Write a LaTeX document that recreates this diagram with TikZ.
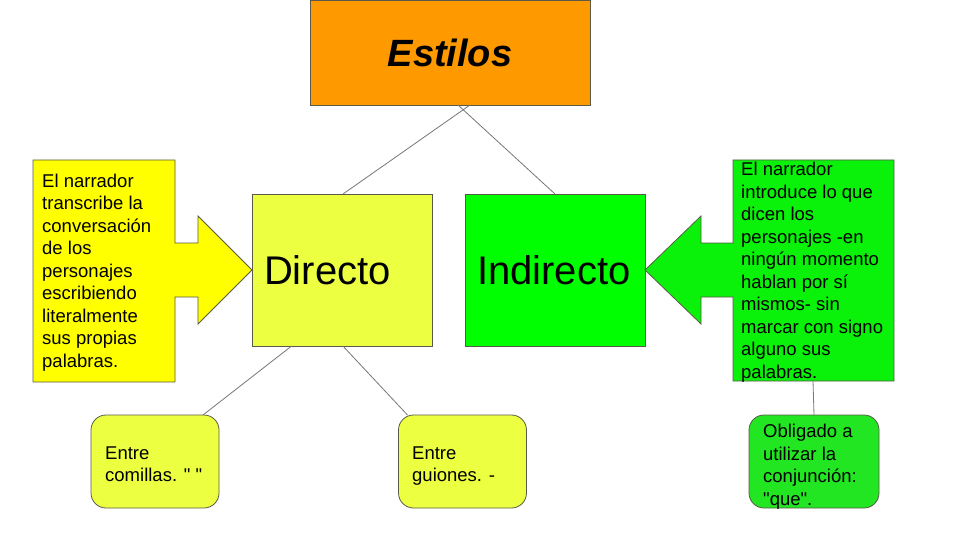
\documentclass[tikz,border=0pt]{standalone}
\usepackage{fontspec}
\setmainfont{Liberation Sans}[Ligatures=TeXOff]
\usetikzlibrary{calc}
\definecolor{orangebox}{HTML}{FF9900}
\definecolor{lightyg}{HTML}{ECFF40}
\definecolor{yellowbox}{HTML}{FFFF00}
\definecolor{greenbox}{HTML}{00FF00}
\definecolor{greenbox2}{HTML}{0AF20A}
\definecolor{greenround}{HTML}{22E622}
\definecolor{edge}{HTML}{5A5A48}
\definecolor{conn}{HTML}{777777}
\begin{document}
\begin{tikzpicture}[x=1pt,y=-1pt,
  boxstyle/.style={draw=edge, line width=0.8pt, inner sep=0pt, outer sep=0pt},
  bigtext/.style={font=\fontsize{40}{44}\selectfont, align=left, text width=156pt, inner xsep=11pt},
  smalltext/.style={font=\fontsize{18.5}{22.5}\selectfont, align=left, inner sep=0pt, anchor=north west},
  roundbox/.style={draw=edge, line width=0.8pt, rounded corners=15pt, minimum width=128pt, minimum height=93pt, inner sep=0pt, outer sep=0pt},
  connline/.style={draw=conn, line width=0.8pt}]
\useasboundingbox (0,0) rectangle (960,540);
\fill[white] (0,0) rectangle (960,540);

% top node
\node[boxstyle, fill=orangebox, minimum width=280pt, minimum height=105pt,
  font=\fontsize{38}{42}\selectfont\bfseries\itshape] (estilos) at (450,52.5) {Estilos};

% main boxes
\node[boxstyle, fill=lightyg, minimum width=180pt, minimum height=152pt, bigtext] (directo) at (342,270) {Directo};
\node[boxstyle, fill=greenbox, minimum width=180pt, minimum height=152pt, bigtext] (indirecto) at (555,270) {Indirecto};

% left callout
\filldraw[fill=yellowbox, draw=edge, line width=0.8pt]
  (33,160) -- (175,160) -- (175,243) -- (198,243) -- (198,216) -- (directo.west)
  -- (198,324) -- (198,297) -- (175,297) -- (175,382) -- (33,382) -- cycle;
\node[smalltext] (leftnote) at (42,173.5) {El narrador\\transcribe la\\conversación\\de los\\personajes\\escribiendo\\literalmente\\sus propias\\palabras.};

% right callout
\filldraw[fill=greenbox2, draw=edge, line width=0.8pt]
  (894,160) -- (733,160) -- (733,243) -- (701,243) -- (701,216) -- (indirecto.east)
  -- (701,324) -- (701,297) -- (733,297) -- (733,381) -- (894,381) -- cycle;
\coordinate (rightnotebottom) at (813,381);
\node[smalltext] (rightnote) at (741,162) {El narrador\\introduce lo que\\dicen los\\personajes -en\\ningún momento\\hablan por sí\\mismos- sin\\marcar con signo\\alguno sus\\palabras.};

% bottom rounded boxes
\node[roundbox, fill=lightyg] (comillas) at (155,461.5) {};
\node[smalltext] (comillastext) at (105,446.5) {Entre\\comillas. " "};
\node[roundbox, fill=lightyg] (guiones) at (462.5,461.5) {};
\node[smalltext] (guionestext) at (412,446.5) {Entre\\guiones. -};
\node[roundbox, fill=greenround, minimum width=130pt] (obligado) at (814,461.5) {};
\node[smalltext] (obligadotext) at (763,424) {Obligado a\\utilizar la\\conjunción:\\"que".};

% connectors
\draw[connline] ($(estilos.south)+(20,0)$) -- ($(directo.north)+(1,0)$);
\draw[connline] ($(estilos.south)+(8,0)$) -- (indirecto.north);
\draw[connline] ($(directo.south west)!0.22!(directo.south east)$) -- ($(comillas.north west)!0.875!(comillas.north east)$);
\draw[connline] ($(directo.south west)!0.505!(directo.south east)$) -- ($(guiones.north west)!0.07!(guiones.north east)$);
\draw[connline] (rightnotebottom) -- (obligado.north);
\end{tikzpicture}
\end{document}
